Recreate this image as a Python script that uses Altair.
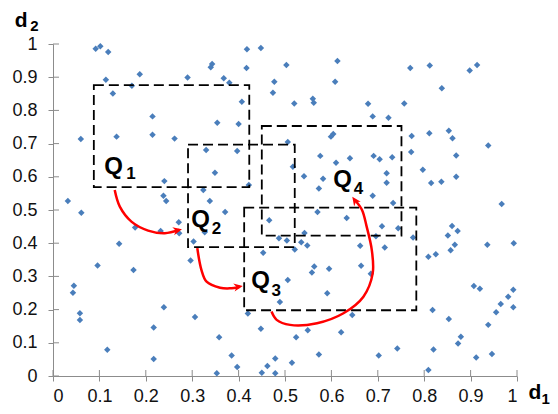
import altair as alt
import pandas as pd

# ---- scatter values (d1, d2) ----
PX = [0.092, 0.102, 0.119, 0.114, 0.129, 0.170, 0.187, 0.290, 0.2145, 0.2145,
      0.137, 0.262, 0.060, 0.240, 0.238, 0.244, 0.032,
      0.418, 0.448, 0.343, 0.340, 0.417, 0.368, 0.380, 0.503, 0.613, 0.477,
      0.608, 0.474, 0.407, 0.520, 0.560, 0.562, 0.679, 0.354, 0.400, 0.599,
      0.604, 0.506, 0.330, 0.397, 0.576, 0.610, 0.640, 0.349, 0.517, 0.541,
      0.582, 0.573, 0.422, 0.324, 0.338,
      0.770, 0.812, 0.898, 0.914, 0.838, 0.757, 0.689, 0.723, 0.773, 0.811,
      0.853, 0.861, 0.938, 0.691, 0.704, 0.731, 0.772, 0.869, 0.797, 0.719,
      0.719, 0.815, 0.837, 0.869, 0.689, 0.733, 0.967,
      0.061, 0.177, 0.232, 0.271, 0.272, 0.1425, 0.303, 0.096, 0.1735, 0.2965,
      0.045, 0.043, 0.058, 0.239, 0.306, 0.327,
      0.371, 0.466, 0.570, 0.633, 0.487, 0.504, 0.542, 0.535, 0.548, 0.521,
      0.453, 0.662, 0.696, 0.563, 0.558, 0.595, 0.664, 0.685, 0.506, 0.591,
      0.489, 0.420, 0.645,
      0.709, 0.744, 0.776, 0.715, 0.860, 0.872, 0.851, 0.866, 0.857, 0.809,
      0.825, 0.936, 0.993, 0.907, 0.920, 0.992, 0.981, 0.965, 0.992, 0.955,
      0.818, 0.853,
      0.058, 0.217, 0.117, 0.217, 0.358, 0.353, 0.385, 0.397, 0.448, 0.450,
      0.462, 0.479, 0.479,
      0.524, 0.549, 0.515, 0.573, 0.621, 0.702, 0.742, 0.820, 0.809, 0.879,
      0.873, 0.912, 0.946, 0.938]
PY = [0.986, 0.993, 0.976, 0.892, 0.851, 0.874, 0.909, 0.899, 0.782, 0.727,
      0.721, 0.715, 0.714, 0.587, 0.543, 0.527, 0.527,
      0.984, 0.988, 0.940, 0.930, 0.928, 0.897, 0.883, 0.937, 0.949, 0.886,
      0.886, 0.853, 0.826, 0.821, 0.835, 0.823, 0.820, 0.763, 0.759, 0.721,
      0.729, 0.705, 0.681, 0.678, 0.663, 0.642, 0.656, 0.612, 0.630, 0.602,
      0.594, 0.565, 0.575, 0.560, 0.527,
      0.928, 0.935, 0.920, 0.937, 0.867, 0.821, 0.782, 0.778, 0.723, 0.731,
      0.739, 0.716, 0.694, 0.663, 0.653, 0.659, 0.675, 0.664, 0.621, 0.611,
      0.582, 0.581, 0.585, 0.600, 0.543, 0.521, 0.518,
      0.492, 0.447, 0.437, 0.463, 0.430, 0.398, 0.405, 0.333, 0.319, 0.348,
      0.272, 0.251, 0.189, 0.207, 0.178, 0.433,
      0.494, 0.469, 0.494, 0.476, 0.415, 0.408, 0.431, 0.403, 0.393, 0.381,
      0.371, 0.392, 0.421, 0.330, 0.312, 0.323, 0.332, 0.308, 0.289, 0.249,
      0.223, 0.188, 0.184,
      0.451, 0.445, 0.417, 0.387, 0.452, 0.437, 0.423, 0.395, 0.379, 0.359,
      0.367, 0.395, 0.400, 0.271, 0.263, 0.260, 0.239, 0.217, 0.207, 0.192,
      0.199, 0.172,
      0.169, 0.146, 0.079, 0.051, 0.117, 0.008, 0.062, 0.027, 0.142, 0.010,
      0.030, 0.053, 0.008,
      0.117, 0.138, 0.040, 0.065, 0.132, 0.062, 0.083, 0.080, 0.018, 0.118,
      0.098, 0.056, 0.066, 0.154]

TICKS = [0, 0.1, 0.2, 0.3, 0.4, 0.5, 0.6, 0.7, 0.8, 0.9, 1]

# ---- query boxes ----
BOX_NAME = ["Q1", "Q2", "Q3", "Q4"]
BOX_X1 = [0.088, 0.291, 0.412, 0.450]
BOX_X2 = [0.423, 0.521, 0.783, 0.751]
BOX_Y1 = [0.569, 0.388, 0.198, 0.423]
BOX_Y2 = [0.876, 0.697, 0.507, 0.753]

# ---- arrows (curve control points in data units) ----
ARROW1_X = [0.133, 0.144, 0.169, 0.205, 0.241, 0.272]
ARROW1_Y = [0.560, 0.510, 0.465, 0.438, 0.430, 0.440]
ARROW2_X = [0.311, 0.320, 0.331, 0.360, 0.381, 0.403]
ARROW2_Y = [0.385, 0.319, 0.284, 0.266, 0.264, 0.269]
ARROW3_X = [0.471, 0.482, 0.511, 0.569, 0.626, 0.669, 0.689, 0.687, 0.676, 0.666, 0.652]
ARROW3_Y = [0.194, 0.169, 0.154, 0.159, 0.189, 0.239, 0.309, 0.380, 0.450, 0.500, 0.528]
HEAD_X = [0.278, 0.409, 0.645]
HEAD_Y = [0.442, 0.271, 0.540]
HEAD_ANGLE = [347, 350, 235]

# ---- labels ----
LAB_TEXT = ["Q", "1", "Q", "2", "Q", "3", "Q", "4", "d", "2", "d", "1"]
LAB_X = [0.1105, 0.158, 0.298, 0.342, 0.427, 0.471, 0.604, 0.648, -0.0827, -0.0488, 1.025, 1.053]
LAB_Y = [0.607, 0.592, 0.449, 0.428, 0.264, 0.242, 0.570, 0.547, 1.051, 1.038, -0.069, -0.084]
LAB_SIZE = [24, 17, 24, 17, 24, 17, 24, 17, 21, 15, 21, 15]

pts = pd.DataFrame({"x": PX, "y": PY})
boxes = pd.DataFrame({"name": BOX_NAME, "x": BOX_X1, "x2": BOX_X2, "y": BOX_Y1, "y2": BOX_Y2})
arrows = pd.DataFrame({
    "arrow": ["a1"] * len(ARROW1_X) + ["a2"] * len(ARROW2_X) + ["a3"] * len(ARROW3_X),
    "i": list(range(len(ARROW1_X))) + list(range(len(ARROW2_X))) + list(range(len(ARROW3_X))),
    "x": ARROW1_X + ARROW2_X + ARROW3_X,
    "y": ARROW1_Y + ARROW2_Y + ARROW3_Y,
})
heads = pd.DataFrame({"x": HEAD_X, "y": HEAD_Y, "angle": HEAD_ANGLE})
labels = pd.DataFrame({"x": LAB_X, "y": LAB_Y, "text": LAB_TEXT, "fs": LAB_SIZE})
ticks = pd.DataFrame({"x": TICKS, "y": TICKS})

AX_GREY = "#8c8c8c"
xs = alt.Scale(domain=[0, 1], nice=False, zero=False)
ys = alt.Scale(domain=[0, 1], nice=False, zero=False)

x_axis = alt.Axis(values=TICKS, format="~g", title=None, grid=False, tickSize=5,
                  labelPadding=6, labelFontSize=18, labelFont="Liberation Sans",
                  labelColor="#111111", domainColor=AX_GREY, tickColor=AX_GREY,
                  labelOverlap=False)
y_axis = alt.Axis(values=TICKS, format="~g", title=None, grid=False, tickSize=5,
                  labelPadding=11, labelFontSize=18, labelFont="Liberation Sans",
                  labelColor="#111111", domainColor=AX_GREY, tickColor=AX_GREY,
                  labelOverlap=False)

X = alt.X("x:Q", scale=xs, axis=x_axis)
Y = alt.Y("y:Q", scale=ys, axis=y_axis)

points = alt.Chart(pts).mark_point(shape="diamond", filled=True, size=42,
                                   color="#4a7ebb", opacity=1).encode(x=X, y=Y)

rects = alt.Chart(boxes).mark_rect(fillOpacity=0, stroke="black", strokeWidth=1.8,
                                   strokeDash=[10, 5]).encode(
    x=X, x2="x2:Q", y=Y, y2="y2:Q",
)

inner_y_ticks = alt.Chart(ticks).mark_rule(color=AX_GREY, strokeWidth=1).encode(
    y=Y, x=alt.value(0), x2=alt.value(6))
inner_x_ticks = alt.Chart(ticks).mark_rule(color=AX_GREY, strokeWidth=1).encode(
    x=X, y=alt.value(326), y2=alt.value(332))

curves = alt.Chart(arrows).mark_line(color="#ff0000", strokeWidth=2.5,
                                     interpolate="catmull-rom").encode(
    x=X, y=Y, detail="arrow:N", order="i:Q",
)

heads_m = alt.Chart(heads).mark_point(shape="M0,0 L-2,-0.9 L-1.4,0 L-2,0.9 Z",
                                      filled=True, color="#ff0000", size=81,
                                      opacity=1).encode(
    x=X, y=Y, angle=alt.Angle("angle:Q", scale=None),
)

texts = alt.Chart(labels).mark_text(align="left", baseline="alphabetic",
                                    font="Liberation Sans", fontWeight="bold",
                                    color="black").encode(
    x=X, y=Y, text="text:N", size=alt.Size("fs:Q", scale=None),
)

chart = alt.layer(points, rects, inner_y_ticks, inner_x_ticks, curves, heads_m, texts).properties(
    width=464, height=332,
    autosize=alt.AutoSizeParams(type="none"),
    padding={"left": 45, "top": 36, "right": 33, "bottom": 30},
).configure_view(stroke=None)

chart.save("out.html", embed_options={"renderer": "svg", "actions": False})
